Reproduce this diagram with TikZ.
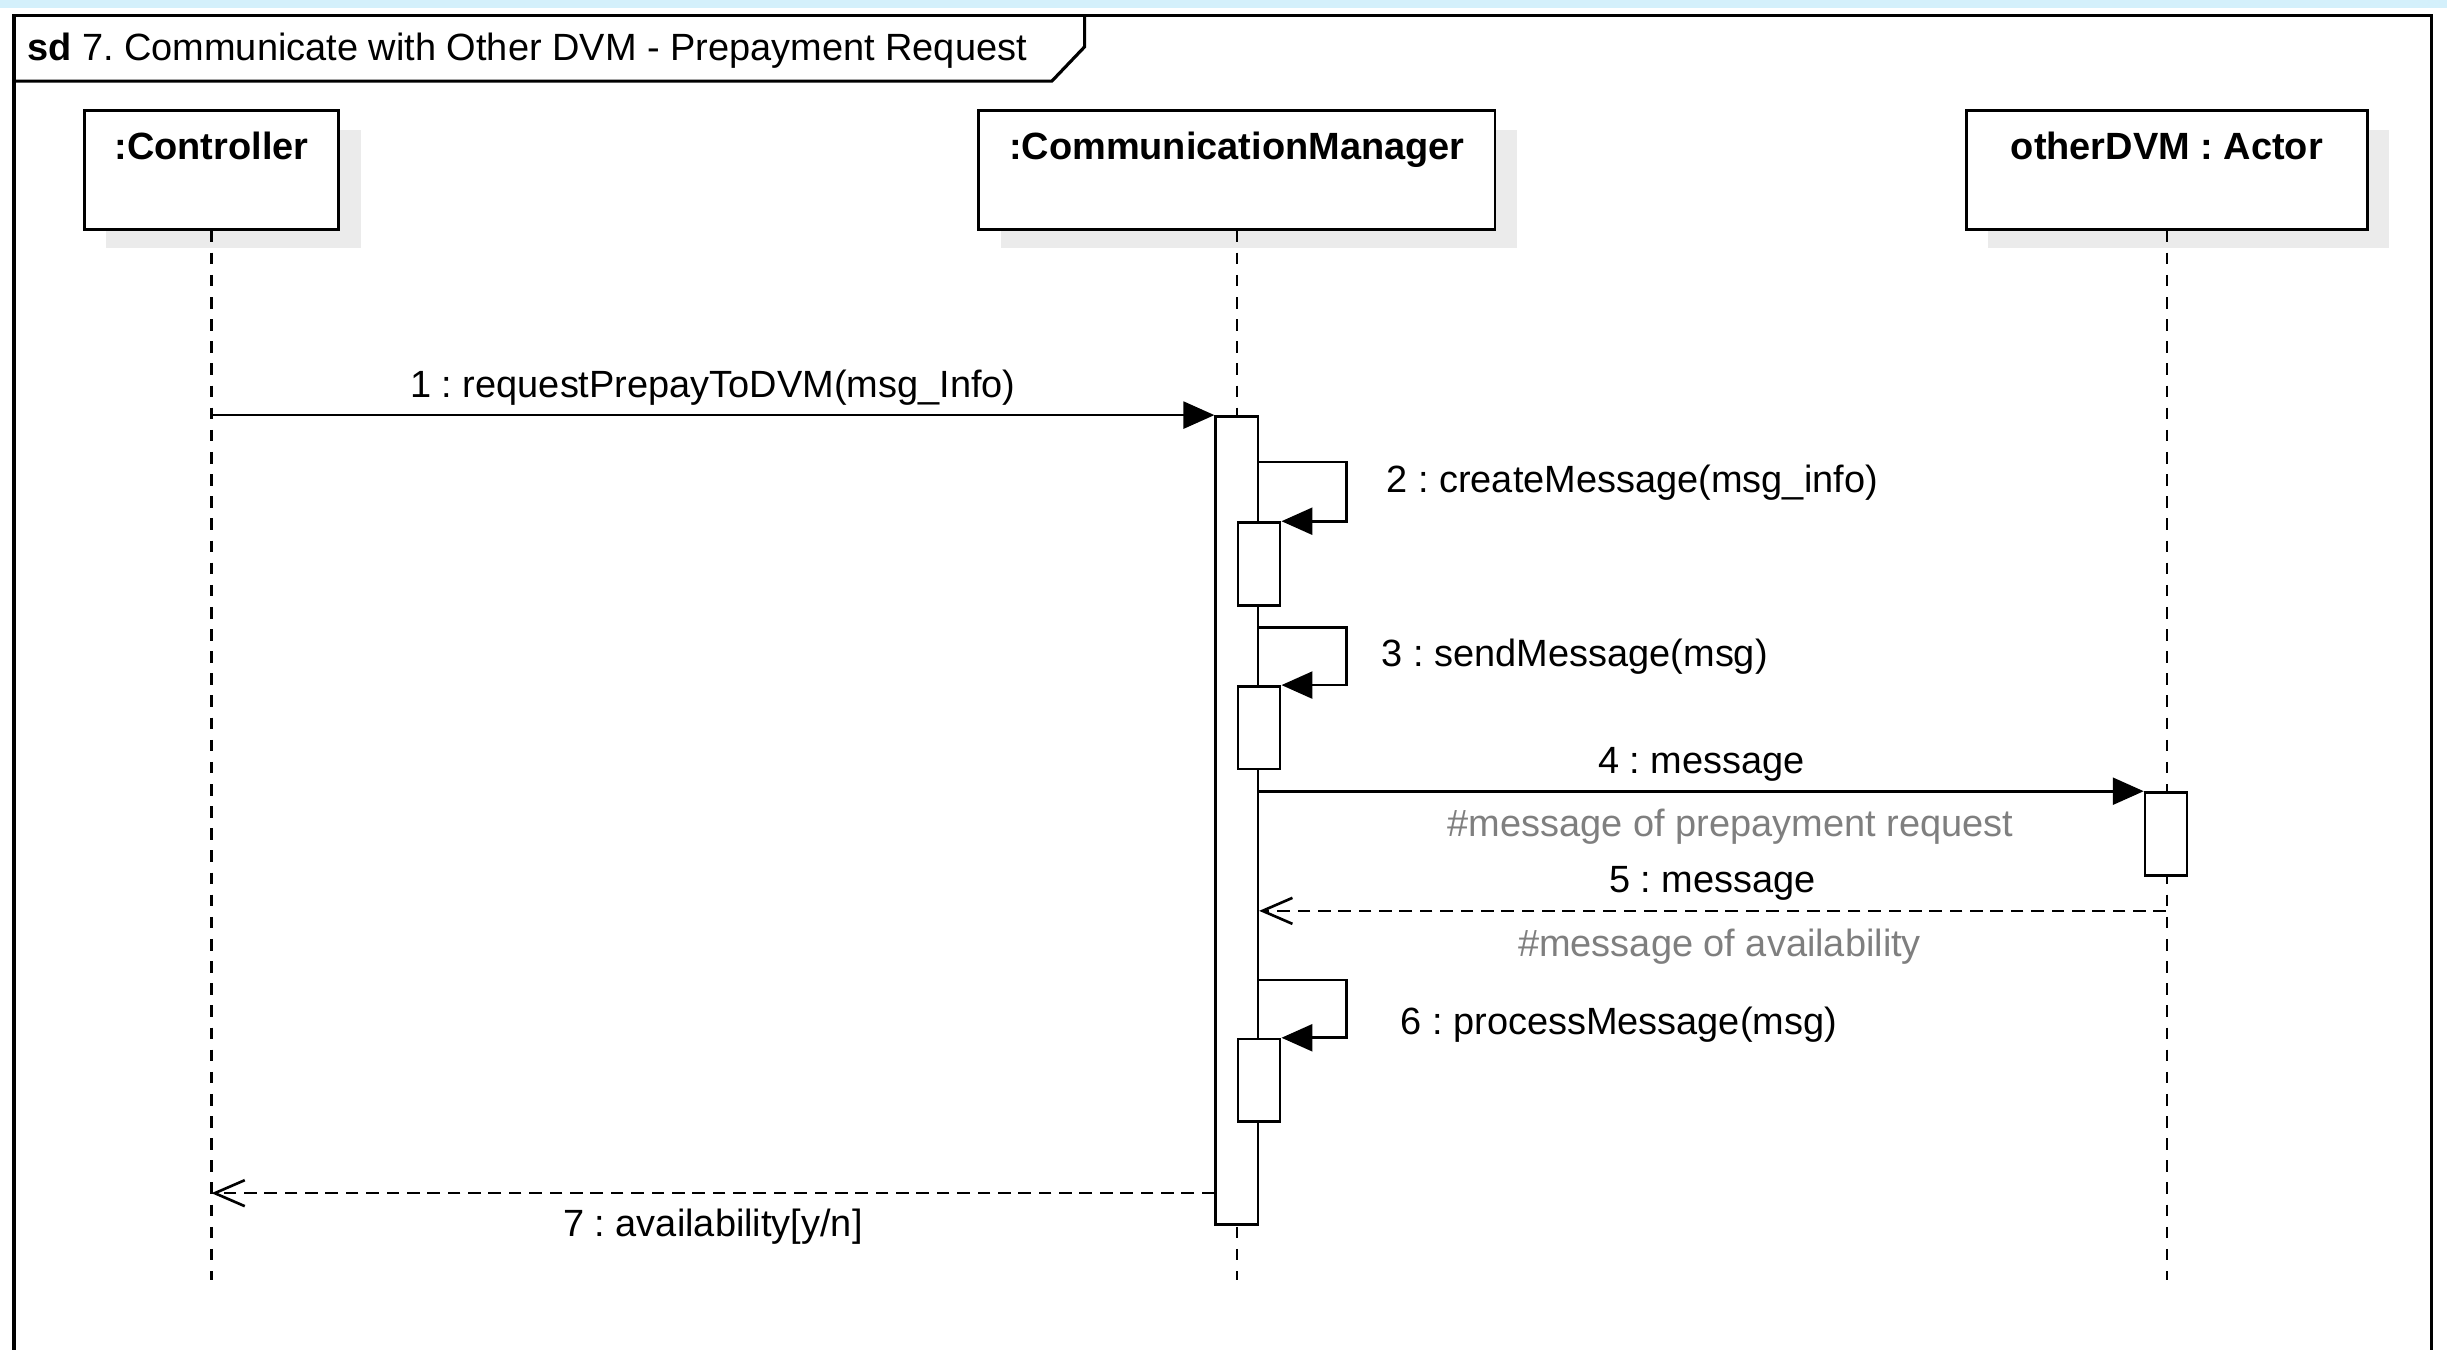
\documentclass[tikz,border=0pt]{standalone}
\usepackage{fontspec}
\setmainfont{Liberation Sans}
\usepackage{tikz}
\usetikzlibrary{arrows.meta,positioning,calc,shadows}
\definecolor{Band}{HTML}{D4F0FB}
\definecolor{Note}{HTML}{7F7F7F}
\definecolor{Shade}{HTML}{EBEBEB}
\newcommand\diagfont{\fontsize{10.8}{13}\selectfont\frenchspacing}
\tikzset{
  frame/.style={draw=black,line width=0.9pt},
  head/.style={draw=black,fill=white,line width=0.8pt,inner sep=0pt,
    text height=0.485cm,text depth=0.701cm,font=\diagfont\bfseries,
    drop shadow={shadow xshift=0.22cm,shadow yshift=-0.19cm,fill=Shade,opacity=1}},
  bar/.style={draw=black,fill=white,line width=0.75pt,inner sep=0pt,minimum width=0.421cm},
  lifeline/.style={line width=0.7pt,dash pattern=on 3.3pt off 3pt},
  call/.style={-{Triangle[length=3.1mm,width=2.7mm]},line width=0.75pt},
  reply/.style={-{Straight Barb[length=3mm,width=2.6mm]},line width=0.75pt,dash pattern=on 3.6pt off 2.2pt},
  msg/.style={font=\diagfont,inner sep=0pt,text height=7.8pt,text depth=2.3pt},
  note/.style={msg,text=Note}
}
\begin{document}
\begin{tikzpicture}[x=0.015606cm,y=-0.015606cm]
  \useasboundingbox (0,0) rectangle (1568,865);
  \fill[Band] (0,0) rectangle (1568,5);

  % frame and its tab
  \draw[frame] (9,865) |- (1558,10) -- (1558,865);
  \draw[frame] (9,52) -- (674,52) -- (695,30) -- (695,10);
  \node[msg,anchor=west] (title) at (17,32.6) {\textbf{sd} 7. Communicate with Other DVM - Prepayment Request};

  % participants
  \node[head,minimum width=2.544cm,anchor=north] (ctrl) at (135.5,70) {:Controller};
  \node[head,minimum width=5.166cm,anchor=north] (comm) at (792.5,70) {:CommunicationManager};
  \node[head,minimum width=4.011cm,anchor=north] (other) at (1388.5,70) {otherDVM : Actor};
  \coordinate (ctrlEnd) at (135.5,820);
  \coordinate (commEnd) at (792.5,820);
  \coordinate (otherEnd) at (1388.5,820);
  \draw[lifeline] (ctrl.south) -- (ctrlEnd);
  \draw[lifeline] (comm.south) -- (commEnd);
  \draw[lifeline] (other.south) -- (otherEnd);

  % activations
  \node[bar,minimum height=8.084cm,anchor=north] (commBar) at (792.5,266) {};
  \node[bar,minimum height=0.827cm,anchor=north] (createBar) at ($(commBar.north east)+(0,68)$) {};
  \node[bar,minimum height=0.827cm,anchor=north] (sendBar) at ($(commBar.north east)+(0,173)$) {};
  \node[bar,minimum height=0.827cm,anchor=north] (processBar) at ($(commBar.north east)+(0,399)$) {};
  \node[bar,minimum height=0.827cm,anchor=north] (otherBar) at (1388,507) {};

  % messages
  \draw[call] (ctrlEnd |- commBar.north) -- (commBar.north west)
    node[msg,midway,above=0.8mm] (m1) {1 : requestPrepayToDVM(msg\_Info)};

  \draw[call] ($(commBar.north east)+(0,30)$) -- ++(56,0) |- (createBar.north east);
  \node[msg,anchor=west] (m2) at (888,309.6) {2 : createMessage(msg\_info)};

  \draw[call] ($(commBar.north east)+(0,136)$) -- ++(56,0) |- (sendBar.north east);
  \node[msg,anchor=west] (m3) at (885,420.6) {3 : sendMessage(msg)};

  \draw[call] (commBar.east |- otherBar.north) -- (otherBar.north west)
    node[msg,midway,above=0.8mm] (m4) {4 : message}
    node[note,midway,below=1.7mm,xshift=0.29cm] (n4) {\#message of prepayment request};

  \coordinate (r5) at ($(otherBar.south)+(0,22)$);
  \draw[reply] (r5) -- (commBar.east |- r5)
    node[msg,midway,above=0.9mm] (m5) {5 : message}
    node[note,midway,below=1.7mm,xshift=0.07cm] (n5) {\#message of availability};

  \draw[call] ($(commBar.north east)+(0,362)$) -- ++(56,0) |- (processBar.north east);
  \node[msg,anchor=west] (m6) at (897,656.6) {6 : processMessage(msg)};

  \coordinate (r7) at ($(commBar.south west)+(0,-21)$);
  \draw[reply] (r7) -- (ctrlEnd |- r7)
    node[msg,midway,below=1.5mm] (m7) {7 : availability[y/n]};
\end{tikzpicture}
\end{document}
